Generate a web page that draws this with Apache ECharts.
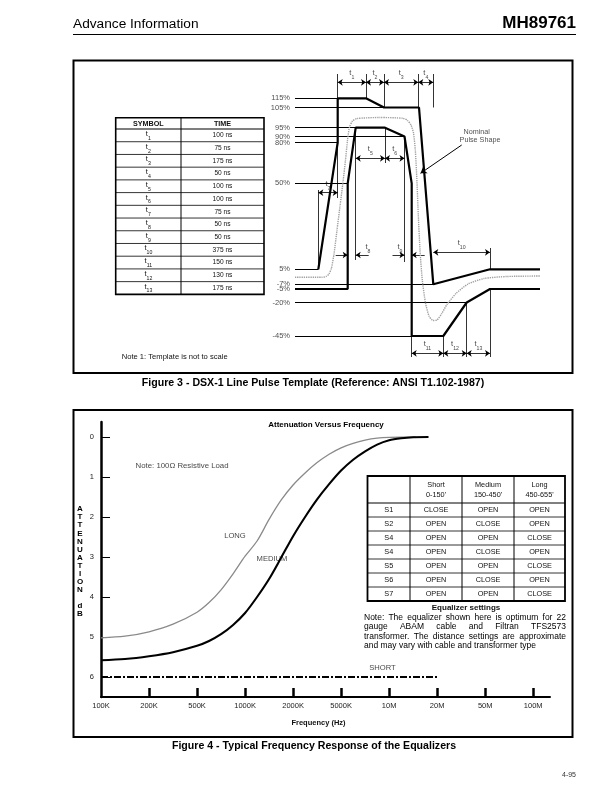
<!DOCTYPE html>
<html><head><meta charset="utf-8">
<script src="https://cdn.jsdelivr.net/npm/echarts@6/dist/echarts.min.js"></script>
<style>html,body{margin:0;padding:0;background:#fff}#c{width:612px;height:792px}</style>
</head><body><div id="c"></div><script>
const FONT = '"Liberation Sans", Arial, Helvetica, sans-serif';

// ---------------- Figure 3 : DSX-1 pulse template (schematic, not to scale) ----------------
const levelLabels = ['115%','105%','95%','90%','80%','50%','5%','-7%','-5%','-20%','-45%'];
const levelPos    = [38.3, 47.5, 67.7, 76.5, 82.5, 123.3, 209.3, 224.3, 229, 242.5, 276];
const L = (name) => levelPos[levelLabels.indexOf(name)];
// schematic time break points (upper / lower template)
const uT = [23.3, 42.7, 71, 89, 124, 138.3, 195, 245];
const lT = [52.7, 60.7, 90, 109.5, 116.7, 148.3, 171.7];
const upperBound = [[uT[0],L('5%')],[uT[1],L('80%')],[uT[1],L('115%')],[uT[2],L('115%')],[uT[3],L('105%')],[uT[4],L('105%')],[uT[5],L('-7%')],[uT[6],L('5%')],[uT[7],L('5%')]];
const lowerBound = [[0,L('-5%')],[lT[0],L('-5%')],[lT[0],L('50%')],[lT[1],L('95%')],[lT[2],L('95%')],[lT[3],L('90%')],[lT[4],L('50%')],[lT[4],L('-45%')],[lT[5],L('-45%')],[lT[6],L('-20%')],[uT[6],L('-5%')],[uT[7],L('-5%')]];
const levelLineEnd = {'115%':uT[1],'105%':uT[4],'95%':lT[1],'90%':lT[3],'80%':uT[1],'50%':lT[0],'5%':uT[0],'-7%':uT[5],'-20%':lT[6],'-45%':lT[4]};
const nominalPulse = [[0,217.3],[27,217.3],[31,216.5],[34,214],[36.5,208],[39,194],[42,170],[45,146],[48,122],[50.5,100],[52.5,80],[54.5,67],[57.5,61],[62,58.5],[85,57.5],[108,58.3],[112.5,60.5],[116,65],[118.5,73],[120.3,90],[121.8,118],[123.3,155],[125,190],[127.3,220],[130.5,243],[134,256],[138,260.5],[142,260],[146.5,254],[152,244.5],[161,233.5],[173,224],[189,218.5],[212,216.5],[245,216]];
const tSymbols = ['1','2','3','4','5','6','7','8','9','10','11','12','13'];
const tTimes   = ['100 ns','75 ns','175 ns','50 ns','100 ns','100 ns','75 ns','50 ns','50 ns','375 ns','150 ns','130 ns','175 ns'];
const dims = [
  {n:'1', x1:uT[1], x2:uT[2], y:22.3}, {n:'2', x1:uT[2], x2:uT[3], y:22.3},
  {n:'3', x1:uT[3], x2:123.3, y:22.3}, {n:'4', x1:123.3, x2:uT[5], y:22.3},
  {n:'5', x1:lT[1], x2:lT[2], y:98.3}, {n:'6', x1:lT[2], x2:lT[3], y:98.3},
  {n:'7', x1:uT[0], x2:uT[1], y:132.7}, {n:'10', x1:uT[5], x2:uT[6], y:192.3},
  {n:'11', x1:lT[4], x2:lT[5], y:293.3}, {n:'12', x1:lT[5], x2:lT[6], y:293.3},
  {n:'13', x1:lT[6], x2:uT[6], y:293.3}
];
const dimsInward = [ {n:'8', x1:lT[0], x2:lT[1], y:195, lx:73}, {n:'9', x1:lT[3], x2:lT[4], y:195, lx:105} ];
const extLines = [
  [uT[1],14,L('115%')],[uT[2],14,L('115%')],[uT[3],14,L('105%')],[123.3,14,L('105%')],[uT[5],14,L('105%')],
  [uT[0],130,L('5%')],[uT[1],L('80%'),138],
  [lT[1],L('95%'),200],[lT[2],L('95%'),103],[lT[3],L('90%'),202],
  [lT[4],L('-45%'),297],[lT[5],L('-45%'),297],[lT[6],L('-20%'),297],[uT[6],L('-5%'),297],[uT[6],188,L('5%')]
];

// ---------------- Figure 4 : attenuation versus frequency ----------------
const freqLabels = ['100K','200K','500K','1000K','2000K','5000K','10M','20M','50M','100M'];
const attTicks = [0,1,2,3,4,5,6];
const longCurve = [[0,5.02],[0.5,4.98],[1,4.87],[1.5,4.68],[2,4.38],[2.25,4.14],[2.5,3.82],[2.75,3.42],[3,2.98],[3.25,2.6],[3.5,2.06],[3.75,1.58],[4,1.2],[4.25,0.9],[4.5,0.64],[4.75,0.43],[5,0.27],[5.25,0.16],[5.5,0.08],[5.75,0.03],[6,0.01],[6.55,0]];
const mediumCurve = [[0,5.58],[0.5,5.55],[1,5.48],[1.5,5.38],[2,5.22],[2.25,5.1],[2.5,4.93],[2.75,4.7],[3,4.4],[3.25,4.0],[3.5,3.55],[3.75,3.02],[4,2.48],[4.25,2.0],[4.5,1.56],[4.75,1.18],[5,0.84],[5.25,0.57],[5.5,0.36],[5.75,0.19],[6,0.08],[6.25,0.03],[6.5,0.005],[6.82,0]];
const shortCurve = [[0,6],[7.02,6]];
const eqHeader = [['',''],['Short',"0-150'"],['Medium',"150-450'"],['Long',"450-655'"]];
const eqRows = [
  ['S1','CLOSE','OPEN','OPEN'],['S2','OPEN','CLOSE','OPEN'],['S4','OPEN','OPEN','CLOSE'],
  ['S4','OPEN','CLOSE','OPEN'],['S5','OPEN','OPEN','CLOSE'],['S6','OPEN','CLOSE','OPEN'],['S7','OPEN','OPEN','CLOSE']
];
const noteLines = ['Note:  The equalizer shown here is optimum for 22','gauge ABAM cable and Filtran TFS2573','transformer. The distance settings are approximate','and may vary with cable and transformer type'];

// ---------------- build ----------------
const chart = echarts.init(document.getElementById('c'), null, {width:612, height:792});
const f = (size, weight) => (weight ? weight + ' ' : '') + size + 'px ' + FONT;
const G = [];
const txt = (x, y, text, size, opt={}) => G.push({type:'text', x, y, silent:true, style:Object.assign({text, font:f(size, opt.weight), fill:opt.fill||'#111', align:opt.align||'center', verticalAlign:'middle'}, opt.extra||{})});
const ln = (x1,y1,x2,y2,w,c) => G.push({type:'line', silent:true, shape:{x1,y1,x2,y2}, style:{stroke:c||'#000', lineWidth:w}});
const rect = (x,y,w,h,lw) => G.push({type:'rect', silent:true, shape:{x,y,width:w,height:h}, style:{fill:'none', stroke:'#000', lineWidth:lw}});
const subRich = {a:{font:f(7.5), fill:'#111', color:'#111', verticalAlign:'top', lineHeight:9}, b:{font:f(5.2), fontSize:5.2, color:'#111', fill:'#111', verticalAlign:'bottom', lineHeight:11}};

// page header
txt(73, 24, 'Advance Information', 13.7, {align:'left', fill:'#000'});
txt(576, 23.5, 'MH89761', 17, {align:'right', weight:'bold', fill:'#000'});
ln(73, 34.5, 576, 34.5, 1);
// figure boxes + captions
rect(73.5, 60.5, 499, 312.5, 2);
txt(313, 383.5, 'Figure 3 - DSX-1 Line Pulse Template (Reference: ANSI T1.102-1987)', 10.6, {weight:'bold', fill:'#000'});
rect(73.5, 410, 499, 327, 2);
txt(314, 746.5, 'Figure 4 - Typical Frequency Response of the Equalizers', 10.6, {weight:'bold', fill:'#000'});
txt(576, 775, '4-95', 7, {align:'right', fill:'#333'});
txt(121.7, 357.3, 'Note 1: Template is not to scale', 7.6, {align:'left'});

// symbol/time table
(function(){
  const x0=115.7, x1=264, xm=181, y0=117.7, yh=129, rh=12.72;
  rect(x0, y0, x1-x0, yh-y0+rh*tSymbols.length, 1.6);
  ln(xm, y0, xm, yh+rh*tSymbols.length, 1);
  ln(x0, yh, x1, yh, 1.2);
  for (let k=1;k<tSymbols.length;k++) ln(x0, yh+rh*k, x1, yh+rh*k, 0.8);
  txt((x0+xm)/2, (y0+yh)/2+0.5, 'SYMBOL', 7.2, {weight:'bold'});
  txt((xm+x1)/2, (y0+yh)/2+0.5, 'TIME', 7.2, {weight:'bold'});
  tSymbols.forEach((s,k)=>{
    const yc = yh + rh*(k+0.5);
    G.push({type:'text', x:(x0+xm)/2, y:yc, silent:true, style:{text:'{a|t}{b|'+s+'}', rich:subRich, align:'center', verticalAlign:'middle', font:f(7.5), fill:'#111'}});
    txt((xm+x1)/2, yc, tTimes[k], 6.6);
  });
})();

// equalizer table
(function(){
  const xs=[367.5,410,462,514,565], y0=476, yh=503, rh=14;
  rect(xs[0], y0, xs[4]-xs[0], yh-y0+rh*eqRows.length, 1.8);
  for (let c=1;c<4;c++) ln(xs[c], y0, xs[c], yh+rh*eqRows.length, 1);
  ln(xs[0], yh, xs[4], yh, 1);
  for (let k=1;k<eqRows.length;k++) ln(xs[0], yh+rh*k, xs[4], yh+rh*k, 0.8);
  eqHeader.forEach((h,c)=>{ if(!h[0]) return; txt((xs[c]+xs[c+1])/2, 484.5, h[0], 7.3); txt((xs[c]+xs[c+1])/2, 494.5, h[1], 7.3); });
  eqRows.forEach((r,k)=> r.forEach((v,c)=> txt((xs[c]+xs[c+1])/2, yh+rh*(k+0.5), v, 7.3)));
  txt(466, 607.5, 'Equalizer settings', 8, {weight:'bold'});
})();

// justified note
(function(){
  const ctx = document.createElement('canvas').getContext('2d');
  const size = 8.5; ctx.font = f(size);
  const left=364, right=566, top=617.5, lh=9.5;
  noteLines.forEach((line, i)=>{
    const y = top + lh*i;
    if (i === noteLines.length-1) { txt(left, y, line, size, {align:'left', fill:'#000'}); return; }
    const words = line.split(' ').filter(w=>w.length);
    const widths = words.map(w=>ctx.measureText(w).width);
    const gap = (right-left-widths.reduce((a,b)=>a+b,0))/(words.length-1);
    let x = left;
    words.forEach((w,j)=>{ txt(x, y, w, size, {align:'left', fill:'#000'}); x += widths[j]+gap; });
  });
})();

// vertical axis title
'ATTENUATION'.split('').forEach((ch,i)=> txt(80, 509 + 8.1*i, ch, 8, {weight:'bold', fill:'#000'}));
txt(80, 606, 'd', 8, {weight:'bold', fill:'#000'});
txt(80, 613.5, 'B', 8, {weight:'bold', fill:'#000'});
txt(326, 424.5, 'Attenuation Versus Frequency', 8, {weight:'bold', fill:'#000'});

// ---------------- series ----------------
const g0 = {xAxisIndex:0, yAxisIndex:0};
const g1 = {xAxisIndex:1, yAxisIndex:1};
const levelLineData = levelLabels.filter(n=>levelLineEnd[n]!==undefined).map(n=>({coords:[[0,L(n)],[levelLineEnd[n],L(n)]]}));
const arrowBoth = dims.map(d=>({coords:[[d.x1,d.y],[d.x2,d.y]]}));
const arrowIn = [];
dimsInward.forEach(d=>{ arrowIn.push({coords:[[d.x1-12,d.y],[d.x1,d.y]]}); arrowIn.push({coords:[[d.x2+13,d.y],[d.x2,d.y]]}); });
const dimLabelData = dims.map(d=>({value:[(d.x1+d.x2)/2, d.y-7.5], n:d.n})).concat(dimsInward.map(d=>({value:[d.lx, d.y-6.5], n:d.n})));
const richLbl = {a:{fontSize:7.5, fontFamily:FONT, color:'#111', verticalAlign:'top', lineHeight:9}, b:{fontSize:5.2, fontFamily:FONT, color:'#111', verticalAlign:'bottom', lineHeight:11}};

const series = [
  Object.assign({type:'lines', coordinateSystem:'cartesian2d', silent:true, data:levelLineData, lineStyle:{color:'#000', width:1, opacity:1}, symbol:'none'}, g0),
  Object.assign({type:'lines', coordinateSystem:'cartesian2d', silent:true, data:extLines.map(e=>({coords:[[e[0],e[1]],[e[0],e[2]]]})), lineStyle:{color:'#000', width:0.8, opacity:1}, symbol:'none'}, g0),
  Object.assign({type:'line', data:nominalPulse, smooth:0.2, symbol:'none', silent:true, lineStyle:{color:'#a0a0a0', width:1.4, type:[1.3,0.9]}}, g0),
  Object.assign({type:'line', data:upperBound, symbol:'none', silent:true, lineStyle:{color:'#000', width:2.2}}, g0),
  Object.assign({type:'line', data:lowerBound, symbol:'none', silent:true, lineStyle:{color:'#000', width:2.2}}, g0),
  Object.assign({type:'lines', coordinateSystem:'cartesian2d', silent:true, data:arrowBoth, lineStyle:{color:'#000', width:0.8, opacity:1}, symbol:['arrow','arrow'], symbolSize:5}, g0),
  Object.assign({type:'lines', coordinateSystem:'cartesian2d', silent:true, data:arrowIn, lineStyle:{color:'#000', width:0.8, opacity:1}, symbol:['none','arrow'], symbolSize:5}, g0),
  Object.assign({type:'lines', coordinateSystem:'cartesian2d', silent:true, data:[{coords:[[166.7,85],[125.5,113.3]]}], lineStyle:{color:'#000', width:1, opacity:1}, symbol:['none','arrow'], symbolSize:6}, g0),
  Object.assign({type:'scatter', silent:true, symbolSize:0, data:levelLabels.map((n,i)=>({value:[0,levelPos[i]], name:n})),
    label:{show:true, position:'left', distance:5, formatter:'{b}', fontSize:7.5, fontFamily:FONT, color:'#222'}}, g0),
  Object.assign({type:'scatter', silent:true, symbolSize:0, data:dimLabelData,
    label:{show:true, position:'inside', formatter:(p)=>'{a|t}{b|'+p.data.n+'}', rich:richLbl}}, g0),
  Object.assign({type:'scatter', silent:true, symbolSize:0, data:[{value:[181.7,71.7], name:'Nominal'},{value:[185,80], name:'Pulse Shape'}],
    label:{show:true, position:'inside', formatter:'{b}', fontSize:7.2, fontFamily:FONT, color:'#222'}}, g0),

  Object.assign({type:'line', data:longCurve, smooth:0.3, symbol:'none', silent:true, lineStyle:{color:'#8a8a8a', width:1.3}}, g1),
  Object.assign({type:'line', data:mediumCurve, smooth:0.3, symbol:'none', silent:true, lineStyle:{color:'#000', width:2.1}}, g1),
  Object.assign({type:'line', data:shortCurve, symbol:'none', silent:true, lineStyle:{color:'#000', width:2, type:[7,2,2,2]}}, g1),
  Object.assign({type:'scatter', silent:true, symbolSize:0, data:[{value:[2.79,2.47], name:'LONG'},{value:[3.56,3.05], name:'MEDIUM'},{value:[5.86,5.78], name:'SHORT'}],
    label:{show:true, position:'inside', formatter:'{b}', fontSize:7.6, fontFamily:FONT, color:'#111'}}, g1),
  Object.assign({type:'scatter', silent:true, symbolSize:0, data:[{value:[0.72,0.72], name:'Note: 100\u03A9 Resistive Load'}],
    label:{show:true, position:'right', distance:0, formatter:'{b}', fontSize:7.8, fontFamily:FONT, color:'#111'}}, g1)
];

chart.setOption({
  animation:false,
  backgroundColor:'#fff',
  grid:[{left:295, top:60, width:300, height:320, show:false},{left:101, top:422, width:449, height:275, show:false}],
  xAxis:[
    {gridIndex:0, type:'value', min:0, max:300, show:false},
    {gridIndex:1, type:'value', min:0, max:9.35, position:'bottom',
     axisLine:{onZero:false, lineStyle:{color:'#000', width:2}},
     axisTick:{show:true, customValues:[1,2,3,4,5,6,7,8,9], inside:true, length:9, lineStyle:{color:'#000', width:2.5}},
     axisLabel:{customValues:[0,1,2,3,4,5,6,7,8,9], formatter:(v)=>freqLabels[Math.round(v)], margin:5, fontSize:7.5, color:'#222', fontFamily:FONT},
     splitLine:{show:false},
     name:'Frequency (Hz)', nameLocation:'middle', nameGap:22,
     nameTextStyle:{fontSize:7.5, fontWeight:'bold', fontFamily:FONT, color:'#111', padding:[0,14,0,0]}}
  ],
  yAxis:[
    {gridIndex:0, type:'value', min:0, max:320, inverse:true, show:false},
    {gridIndex:1, type:'value', min:-0.375, max:6.5, inverse:true,
     axisLine:{show:true, onZero:false, lineStyle:{color:'#000', width:2.5}},
     axisTick:{show:true, customValues:attTicks, inside:true, length:9, lineStyle:{color:'#000', width:1}},
     axisLabel:{customValues:attTicks, margin:7, fontSize:7.5, color:'#222', fontFamily:FONT},
     splitLine:{show:false}}
  ],
  series,
  graphic:{elements:G}
});
</script></body></html>
